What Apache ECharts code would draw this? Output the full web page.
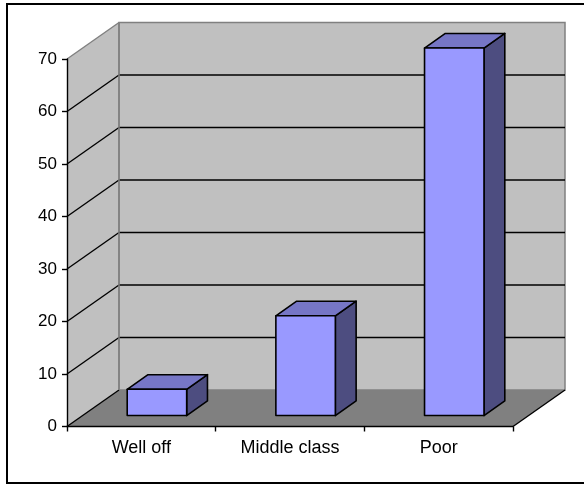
<!DOCTYPE html>
<html>
<head>
<meta charset="utf-8">
<script src="https://cdn.jsdelivr.net/npm/echarts@6/dist/echarts.min.js"></script>
<style>
html,body{margin:0;padding:0;background:#fff;}
#chart{width:584px;height:485px;}
</style>
</head>
<body>
<div id="chart"></div>
<script>
const categories = ['Well off', 'Middle class', 'Poor'];
const values = [5, 19, 70];
const yTicks = [0, 10, 20, 30, 40, 50, 60, 70];

const DX = 52, DY = -36.5;       // depth of the 3D box (px)
const F1 = 0.3, F2 = 0.7;        // bar front/back depth fractions
const BAR_FRAC = 0.4;            // bar width as fraction of category band
const FONT = '"Liberation Sans", Arial, sans-serif';

const chart = echarts.init(document.getElementById('chart'), null, {renderer: 'canvas'});

function renderWalls(params, api) {
  const cs = params.coordSys;
  const gx = cs.x, gy = cs.y, gw = cs.width, gh = cs.height;
  const children = [];
  children.push({type: 'polygon', shape: {points: [[gx, gy], [gx + DX, gy + DY], [gx + DX, gy + gh + DY], [gx, gy + gh]]},
    style: {fill: '#C0C0C0', stroke: null}});
  children.push({type: 'rect', shape: {x: gx + DX, y: gy + DY, width: gw, height: gh},
    style: {fill: '#C0C0C0', stroke: '#808080', lineWidth: 1.5}});
  children.push({type: 'polygon', shape: {points: [[gx, gy + gh], [gx + gw, gy + gh], [gx + gw + DX, gy + gh + DY], [gx + DX, gy + gh + DY]]},
    style: {fill: '#808080', stroke: null}});
  children.push({type: 'line', shape: {x1: gx + gw, y1: gy + gh, x2: gx + gw + DX, y2: gy + gh + DY},
    style: {stroke: '#000', lineWidth: 1.4}});
  const maxV = yTicks[yTicks.length - 1];
  yTicks.forEach(function (v) {
    const y = api.coord([0, v])[1];
    const isTop = v === maxV;
    children.push({type: 'line', shape: {x1: gx, y1: y, x2: gx + DX, y2: y + DY},
      style: {stroke: isTop ? '#808080' : '#000', lineWidth: 1.4}});
    if (v !== 0 && !isTop) {
      children.push({type: 'line', shape: {x1: gx + DX, y1: y + DY, x2: gx + DX + gw, y2: y + DY},
        style: {stroke: '#000', lineWidth: 1.4}});
    }
  });
  children.push({type: 'line', shape: {x1: gx + DX, y1: gy + DY, x2: gx + DX, y2: gy + gh + DY},
    style: {stroke: '#808080', lineWidth: 1.5}});
  return {type: 'group', children: children};
}

function renderBar(params, api) {
  const i = api.value(0), v = api.value(1);
  const base = api.coord([i, 0]);
  const top = api.coord([i, v]);
  const bw = api.size([1, 0])[0] * BAR_FRAC;
  const x0 = base[0] - bw / 2 + DX * F1;
  const yb = base[1] + DY * F1;
  const yt = top[1] + DY * F1;
  const ddx = DX * (F2 - F1), ddy = DY * (F2 - F1);
  const st = {stroke: '#000', lineWidth: 1.6, lineJoin: 'round'};
  return {type: 'group', children: [
    {type: 'polygon', shape: {points: [[x0 + bw, yt], [x0 + bw + ddx, yt + ddy], [x0 + bw + ddx, yb + ddy], [x0 + bw, yb]]},
      style: Object.assign({fill: '#4D4D80'}, st)},
    {type: 'polygon', shape: {points: [[x0, yt], [x0 + bw, yt], [x0 + bw + ddx, yt + ddy], [x0 + ddx, yt + ddy]]},
      style: Object.assign({fill: '#7676C6'}, st)},
    {type: 'rect', shape: {x: x0, y: yt, width: bw, height: yb - yt},
      style: Object.assign({fill: '#9999FF'}, st)}
  ]};
}

chart.setOption({
  animation: false,
  backgroundColor: '#fff',
  graphic: [{
    type: 'rect', shape: {x: 7, y: 4, width: 600, height: 479},
    style: {fill: null, stroke: '#000', lineWidth: 2}, z: 100
  }],
  grid: {left: 67, top: 59, width: 446, height: 367.5, containLabel: false},
  xAxis: {
    type: 'category', data: categories, boundaryGap: true, z: 10,
    axisLine: {show: true, lineStyle: {color: '#000', width: 1.4}},
    axisTick: {show: true, length: 5, alignWithLabel: false, lineStyle: {color: '#000', width: 1.4}},
    axisLabel: {color: '#000', fontSize: 18, fontFamily: FONT, margin: 13},
    splitLine: {show: false}
  },
  yAxis: {
    type: 'value', min: 0, max: 70, interval: 10, z: 10,
    axisLine: {show: true, lineStyle: {color: '#000', width: 1.4}},
    axisTick: {show: true, length: 5, lineStyle: {color: '#000', width: 1.4}},
    axisLabel: {color: '#000', fontSize: 17, fontFamily: FONT, margin: 10},
    splitLine: {show: false}
  },
  series: [
    {type: 'custom', renderItem: renderWalls, data: [[0, 0]], clip: false, silent: true, z: 1},
    {type: 'custom', renderItem: renderBar, data: values.map(function (v, i) { return [i, v]; }), clip: false, z: 3}
  ]
});
</script>
</body>
</html>
